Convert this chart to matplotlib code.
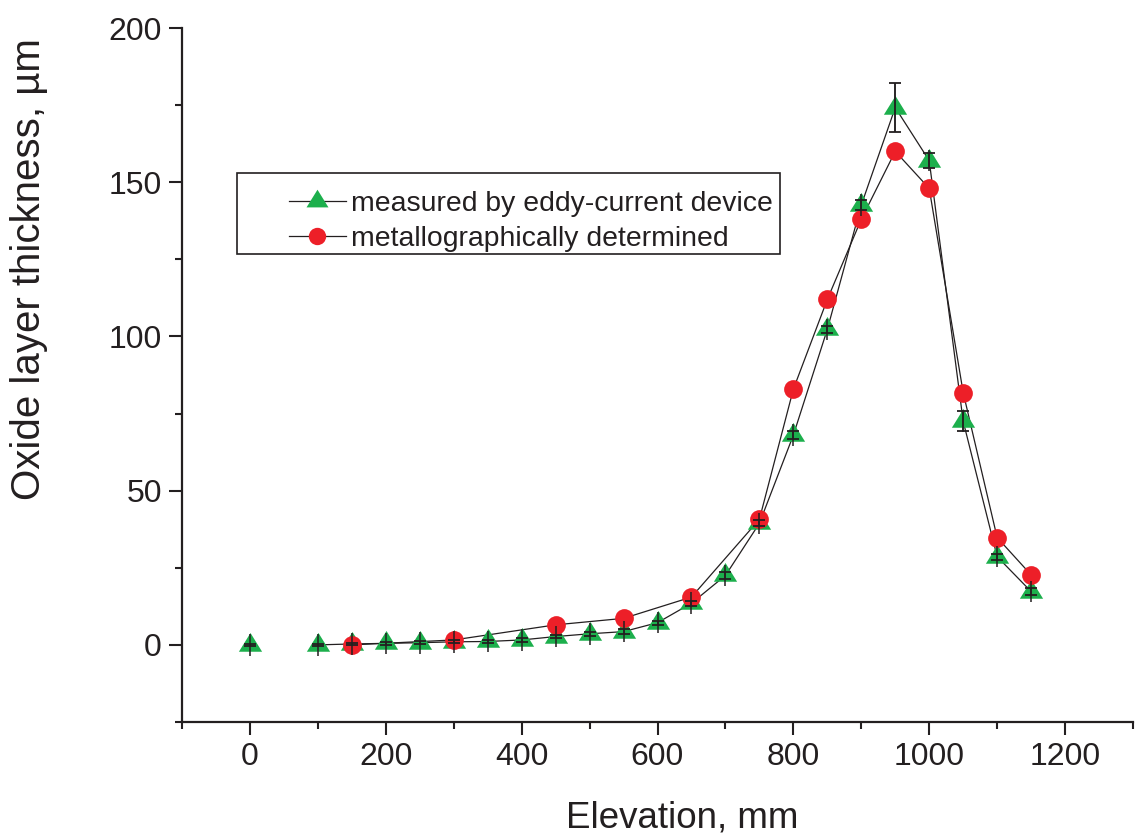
import numpy as np
import matplotlib
matplotlib.use("Agg")
import matplotlib.pyplot as plt
from matplotlib.path import Path
from matplotlib.patches import Rectangle
from matplotlib.ticker import MultipleLocator

# Eddy-current measurements (mm, µm) with their scatter
eddy_elev = [0, 100, 150, 200, 250, 300, 350, 400, 450, 500, 550, 600,
             650, 700, 750, 800, 850, 900, 950, 1000, 1050, 1100, 1150]
eddy_thick = [0.0, 0.0, 0.3, 0.5, 0.7, 1.0, 1.1, 1.6, 2.7, 3.6, 4.3, 7.2,
              13.5, 22.5, 39.4, 68.0, 102.3, 142.6, 174.2, 157.0, 72.5, 28.6, 17.3]
eddy_err = [0.3, 0.3, 0.3, 0.4, 0.4, 0.5, 0.5, 0.6, 0.6, 0.6, 0.7, 0.7,
            0.8, 1.0, 1.0, 1.2, 1.2, 1.5, 7.9, 2.5, 3.2, 1.0, 1.0]

# Metallographic cross-section results
metal_elev = [150, 300, 450, 550, 650, 750, 800, 850, 900, 950, 1000, 1050, 1100, 1150]
metal_thick = [0.0, 1.6, 6.5, 8.6, 15.5, 40.7, 82.9, 112.0, 138.0, 160.0,
               148.0, 81.8, 34.8, 22.7]

x_ticks = [0, 200, 400, 600, 800, 1000, 1200]
y_ticks = [0, 50, 100, 150, 200]

series_labels = ["measured by eddy-current device", "metallographically determined"]
x_label = "Elevation, mm"
y_label = "Oxide layer thickness, µm"

GREEN = "#1caf4c"
RED = "#ed1f28"
INK = "#231f20"

plt.rcParams["font.family"] = ["Liberation Sans", "DejaVu Sans"]
plt.rcParams["text.color"] = INK
plt.rcParams["axes.labelcolor"] = INK
plt.rcParams["xtick.color"] = INK
plt.rcParams["ytick.color"] = INK

# Triangle centred on its centroid (as in Origin), not on its bounding box
tri = Path([(0, 1.0), (-0.93, -0.5), (0.93, -0.5), (0, 1.0)],
           [Path.MOVETO, Path.LINETO, Path.LINETO, Path.CLOSEPOLY])

fig = plt.figure(figsize=(11.35, 8.36), dpi=100)
ax = fig.add_axes([182 / 1135, 114 / 836, 951 / 1135, 694 / 836])

ex = np.array(eddy_elev, dtype=float)
ey = np.array(eddy_thick, dtype=float)
ee = np.array(eddy_err, dtype=float)
mx = np.array(metal_elev, dtype=float)
my = np.array(metal_thick, dtype=float)

# connecting lines (the eddy-current trace starts at 100 mm)
conn = ex >= 100
ax.plot(ex[conn], ey[conn], color=INK, lw=0.9, zorder=1)
ax.plot(mx, my, color=INK, lw=0.9, zorder=1)

ax.plot(ex, ey, linestyle="none", marker=tri, ms=18, color=GREEN,
        markeredgewidth=0, zorder=2)
ax.plot(mx, my, linestyle="none", marker="o", ms=13.5, color=RED,
        markeredgewidth=0, zorder=3)

# error bars: stems plus caps
stem = np.maximum(ee, 3.5)
ax.errorbar(ex, ey, yerr=stem, fmt="none", ecolor=INK, elinewidth=1.1,
            capsize=0, zorder=4)
ax.errorbar(ex, ey, yerr=ee, fmt="none", ecolor=INK, elinewidth=1.1,
            capsize=4.6, capthick=1.3, zorder=4)

ax.set_xlim(-100, 1300)
ax.set_ylim(-25, 200)
ax.set_xticks(x_ticks)
ax.set_yticks(y_ticks)
ax.xaxis.set_minor_locator(MultipleLocator(100))
ax.yaxis.set_minor_locator(MultipleLocator(25))
ax.tick_params(which="major", direction="out", length=9.5, width=1.5,
               labelsize=23, pad=5)
ax.tick_params(which="minor", direction="out", length=5, width=1.5)

for side in ("top", "right"):
    ax.spines[side].set_visible(False)
for side in ("left", "bottom"):
    ax.spines[side].set_linewidth(1.6)
    ax.spines[side].set_color(INK)

ax.set_xlabel(x_label, fontsize=26.5)
ax.set_ylabel(y_label, fontsize=29)
ax.xaxis.set_label_coords((682 - 182) / 951, (722 - 836) / 694, transform=ax.transAxes)
ax.yaxis.set_label_coords((10 - 182) / 951, (722 - 269) / 694, transform=ax.transAxes)
ax.xaxis.label.set_va("bottom")
ax.yaxis.label.set_va("top")

# legend
h1, = ax.plot([], [], color=INK, lw=0.9, marker=tri, ms=17, mfc=GREEN,
              mec=GREEN, mew=0)
h2, = ax.plot([], [], color=INK, lw=0.9, marker="o", ms=12.5, mfc=RED,
              mec=RED, mew=0)
box = Rectangle((55 / 951, (722 - 254) / 694), 543 / 951, 81 / 694,
                transform=ax.transAxes, fill=False, edgecolor=INK, lw=1.2,
                zorder=5)
ax.add_patch(box)
ax.legend([h1, h2], series_labels, frameon=False, loc="upper left",
          bbox_to_anchor=(107 / 951, (722 - 191) / 694), borderpad=0,
          borderaxespad=0, handlelength=2.0, handletextpad=0.2,
          labelspacing=0.3, fontsize=20.4)

fig.savefig("out.png", dpi=100)
